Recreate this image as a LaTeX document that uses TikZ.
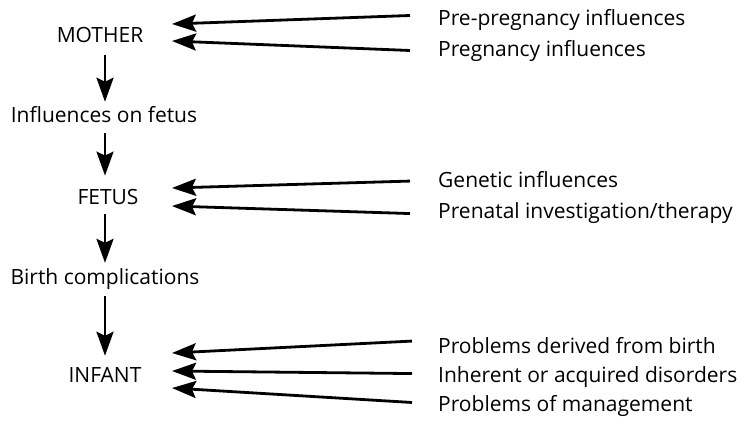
\documentclass[tikz,border=0pt]{standalone}
\usepackage{fontspec}
\setmainfont{Open Sans}
\usetikzlibrary{arrows.meta}

\begin{document}
\begin{tikzpicture}[x=1pt,y=-1pt,
  txt/.style={font=\fontsize{21}{25}\selectfont,inner sep=0pt,anchor=base},
  infl/.style={txt,anchor=base west},
  arr/.style={line width=2.8pt,-{Stealth[length=24pt,width=17pt,inset=4pt]}}]
  \useasboundingbox (0,0) rectangle (742,421);
  % left column
  \node[txt] (mother) at (100,42) {MOTHER};
  \node[txt] (onfetus) at (104,122) {Influences on fetus};
  \node[txt] (fetus) at (108,204) {FETUS};
  \node[txt] (birth) at (105,284) {Birth complications};
  \node[txt] (infant) at (105,382) {INFANT};
  \coordinate (spine) at (105,0);
  \draw[arr,shorten <=13pt,shorten >=4pt] (mother.south -| spine) -- (onfetus.north -| spine);
  \draw[arr,shorten <=11pt,shorten >=13pt] (onfetus.south -| spine) -- (fetus.north -| spine);
  \draw[arr,shorten <=10pt,shorten >=5pt] (fetus.south -| spine) -- (birth.north -| spine);
  \draw[arr,shorten <=7pt,shorten >=11pt] (birth.south -| spine) -- (infant.north -| spine);
  % right column
  \node[infl] (prepreg) at (438,25) {Pre-pregnancy influences};
  \node[infl] (preg) at (438,56) {Pregnancy influences};
  \node[infl] (genetic) at (438,187) {Genetic influences};
  \node[infl] (prenatal) at (438,218) {Prenatal investigation/therapy};
  \node[infl] (derived) at (438,353) {Problems derived from birth};
  \node[infl] (inherent) at (438,382) {Inherent or acquired disorders};
  \node[infl] (manage) at (438,411) {Problems of management};
  % arrow tips beside the left column
  \coordinate (m1) at (172,24);
  \coordinate (m2) at (172,41);
  \coordinate (f1) at (172,188);
  \coordinate (f2) at (172,206);
  \coordinate (i1) at (172,353);
  \coordinate (i2) at (172,371);
  \coordinate (i3) at (172,388);
  \draw[arr] ([xshift=-28pt,yshift=4pt]prepreg.west) -- (m1);
  \draw[arr] ([xshift=-28pt]preg.west) -- (m2);
  \draw[arr] ([xshift=-28pt,yshift=-2pt]genetic.west) -- (f1);
  \draw[arr] ([xshift=-28pt,yshift=-1pt]prenatal.west) -- (f2);
  \draw[arr] ([xshift=-26pt,yshift=4pt]derived.west) -- (i1);
  \draw[arr] ([xshift=-26pt,yshift=3pt]inherent.west) -- (i2);
  \draw[arr] ([xshift=-26pt,yshift=3pt]manage.west) -- (i3);
\end{tikzpicture}
\end{document}
